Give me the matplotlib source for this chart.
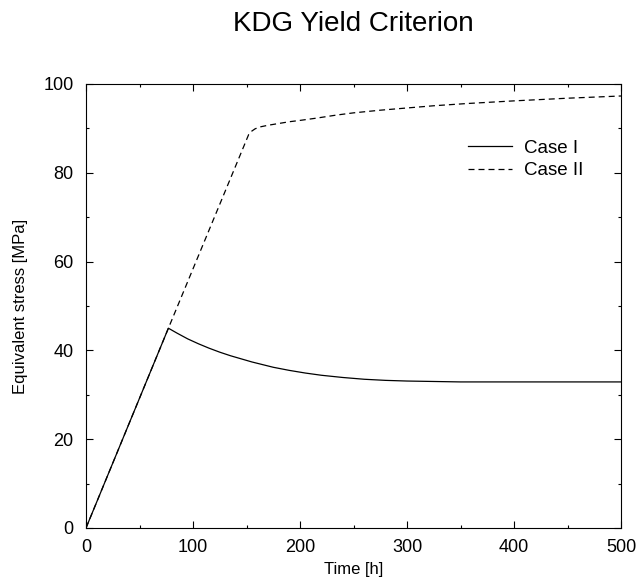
import numpy as np
import matplotlib
matplotlib.use("Agg")
import matplotlib.pyplot as plt

plt.rcParams["font.family"] = ["Liberation Sans", "DejaVu Sans"]

# Case I: elastic loading then stress relaxation
time_case1 = [0, 77, 85, 95, 105, 115, 125, 135, 145, 155, 165, 175, 190, 205, 220,
              240, 260, 280, 300, 325, 350, 400, 450, 500]
stress_case1 = [0, 45.0, 43.9, 42.6, 41.5, 40.5, 39.6, 38.8, 38.1, 37.4, 36.8, 36.2, 35.5,
                34.9, 34.4, 33.9, 33.5, 33.25, 33.1, 33.0, 32.9, 32.9, 32.9, 32.9]

# Case II: continued loading until yield, then hardening
time_case2 = [0, 77, 152, 155, 158, 162, 170, 180, 190, 200, 215, 234, 250, 275, 300,
              325, 356, 400, 450, 500]
stress_case2 = [0, 45.0, 88.6, 89.4, 89.9, 90.3, 90.7, 91.1, 91.5, 91.8, 92.3, 93.0, 93.5,
                94.1, 94.6, 95.1, 95.6, 96.2, 96.8, 97.3]

x_ticks = [0, 100, 200, 300, 400, 500]
y_ticks = [0, 20, 40, 60, 80, 100]

fig = plt.figure(figsize=(6.37, 5.84), dpi=100)
ax = fig.add_axes([86 / 637, 56 / 584, 535 / 637, 444 / 584])

ax.plot(time_case1, stress_case1, color="k", linewidth=0.9, label="Case I")
ax.plot(time_case2, stress_case2, color="k", linewidth=0.9,
        linestyle=(0, (4.8, 3.2)), label="Case II")

ax.set_xlim(0, 500)
ax.set_ylim(0, 100)
ax.set_xticks(x_ticks)
ax.set_yticks(y_ticks)
ax.set_xticks(np.arange(50, 500, 100), minor=True)
ax.set_yticks(np.arange(10, 100, 20), minor=True)

ax.tick_params(which="both", direction="in", top=True, right=True, width=0.8)
ax.tick_params(which="major", length=4.7, labelsize=13)
ax.tick_params(which="minor", length=2.5)
ax.tick_params(axis="x", which="major", pad=8)
ax.tick_params(axis="y", which="major", pad=9)

for spine in ax.spines.values():
    spine.set_linewidth(0.8)

ax.set_xlabel("Time [h]", fontsize=12, labelpad=4)
ax.set_ylabel("Equivalent stress [MPa]", fontsize=12, labelpad=11)
ax.set_title("KDG Yield Criterion", fontsize=20, pad=38)

ax.legend(loc="upper left", bbox_to_anchor=((468 - 86) / 535, 0.875),
          frameon=False, fontsize=13.5, borderpad=0, borderaxespad=0,
          handlelength=2.35, handletextpad=0.64, labelspacing=0.3)

fig.savefig("out.png", dpi=100)
